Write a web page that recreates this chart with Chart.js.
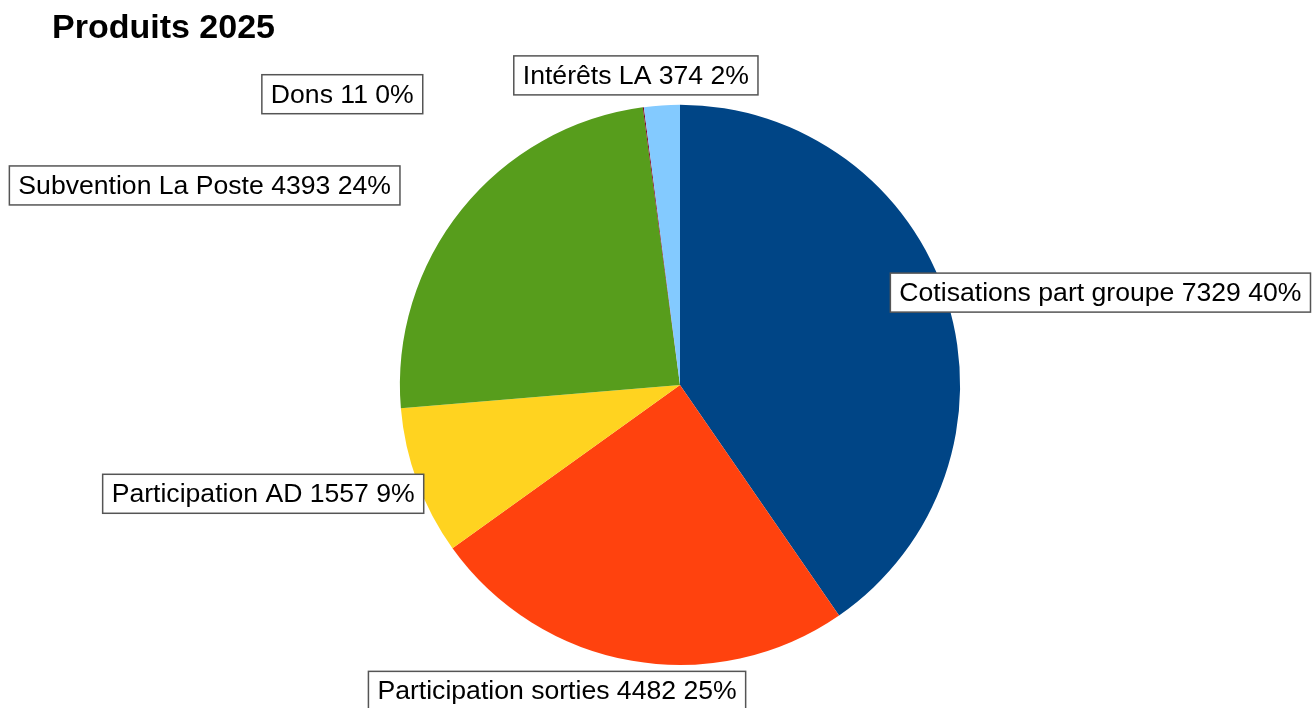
<!DOCTYPE html>
<html>
<head>
<meta charset="utf-8">
<script src="https://cdn.jsdelivr.net/npm/chart.js@4/dist/chart.umd.min.js"></script>
<style>
  html, body { margin: 0; padding: 0; background: #fff; }
  #wrap { width: 1314px; height: 708px; }
</style>
</head>
<body>
<div id="wrap"><canvas id="chart"></canvas></div>
<script>
const categories = ['Cotisations part groupe', 'Participation sorties', 'Participation AD', 'Subvention La Poste', 'Dons', 'Intérêts LA']
const values = [7329, 4482, 1557, 4393, 11, 374]
const sliceColors = ['#004586', '#ff420e', '#ffd320', '#579d1c', '#7e0021', '#83caff']

// where each label box sits, relative to the outer middle of its slice
const labelShift = [[153, -9], [-75, 30], [-154, 12], [-257, -24], [-301, -13], [-26, -30]]

const FONT = '"Liberation Sans", Arial, sans-serif'

const boxLabels = {
  id: 'boxLabels',
  afterDatasetsDraw (chart) {
    const ctx = chart.ctx
    const meta = chart.getDatasetMeta(0)
    const total = values.reduce((a, b) => a + b, 0)
    ctx.save()
    ctx.font = '26.6px ' + FONT
    ctx.textAlign = 'center'
    ctx.textBaseline = 'middle'
    meta.data.forEach((arc, i) => {
      const { x, y, startAngle, endAngle, outerRadius } = arc.getProps(['x', 'y', 'startAngle', 'endAngle', 'outerRadius'], true)
      const mid = (startAngle + endAngle) / 2
      const cx = x + Math.cos(mid) * outerRadius + labelShift[i][0]
      const cy = y + Math.sin(mid) * outerRadius + labelShift[i][1]
      const text = categories[i] + ' ' + values[i] + ' ' + Math.round(values[i] / total * 100) + '%'
      const w = ctx.measureText(text).width + 18
      const h = 39
      ctx.fillStyle = '#fff'
      ctx.fillRect(cx - w / 2, cy - h / 2, w, h)
      ctx.strokeStyle = '#555'
      ctx.lineWidth = 1.5
      ctx.strokeRect(cx - w / 2, cy - h / 2, w, h)
      ctx.fillStyle = '#000'
      ctx.fillText(text, cx, cy + 1)
    })
    ctx.restore()
  }
}

// eslint-disable-next-line no-unused-vars, no-undef
const chart = new Chart(document.querySelector('#chart'), {
  type: 'pie',
  data: {
    labels: categories,
    datasets: [{
      data: values,
      backgroundColor: sliceColors,
      borderWidth: 0
    }]
  },
  options: {
    responsive: true,
    maintainAspectRatio: false,
    animation: false,
    layout: { padding: { top: 0, bottom: 43, left: 52, right: 6 } },
    plugins: {
      legend: { display: false },
      tooltip: { enabled: false },
      title: {
        display: true,
        text: 'Produits 2025',
        align: 'start',
        color: '#000',
        font: { family: FONT, size: 34, weight: 'bold', lineHeight: 1.2 },
        padding: { top: 8, bottom: 56 }
      }
    }
  },
  plugins: [boxLabels]
})
</script>
</body>
</html>
